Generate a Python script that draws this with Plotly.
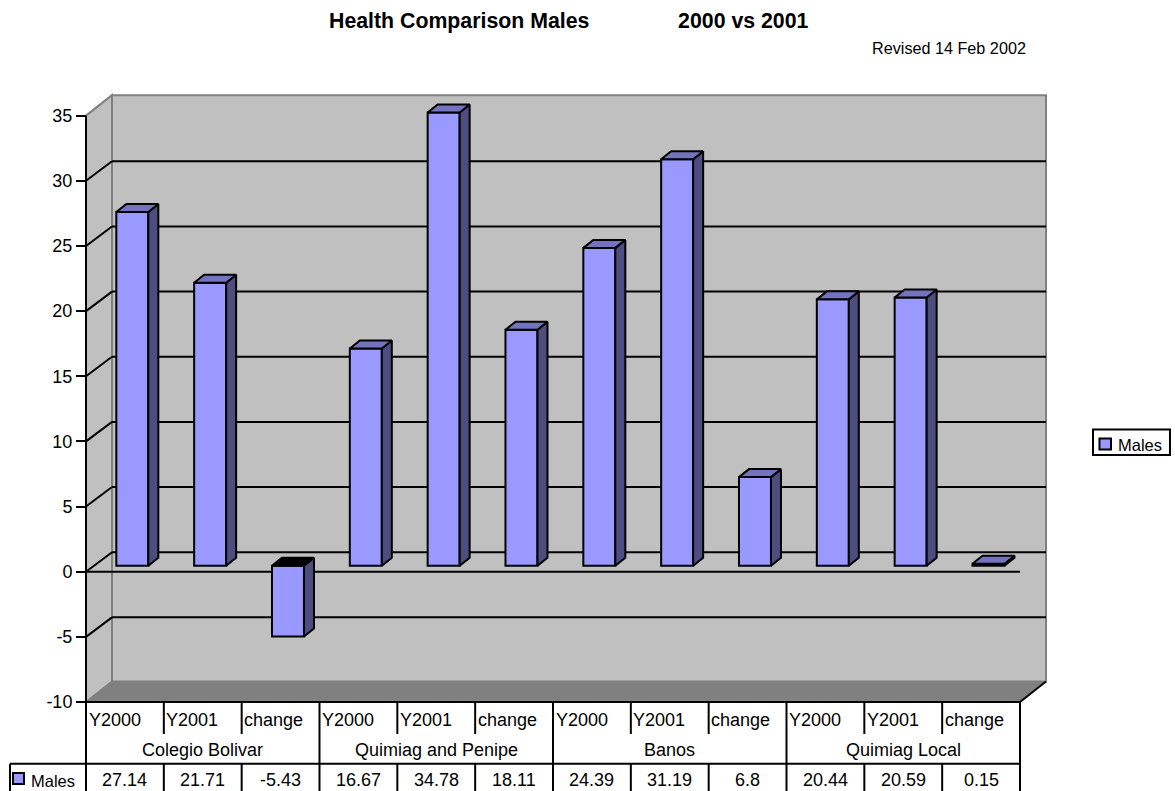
import plotly.graph_objects as go

# Chart data
groups = ["Colegio Bolivar", "Quimiag and Penipe", "Banos", "Quimiag Local"]
periods = ["Y2000", "Y2001", "change"]
males = [27.14, 21.71, -5.43, 16.67, 34.78, 18.11, 24.39, 31.19, 6.8, 20.44, 20.59, 0.15]
y_ticks = [-10, -5, 0, 5, 10, 15, 20, 25, 30, 35]
value_labels = ["27.14", "21.71", "-5.43", "16.67", "34.78", "18.11",
                "24.39", "31.19", "6.8", "20.44", "20.59", "0.15"]

# Canvas and pseudo-3D geometry, in pixels
WIDTH, HEIGHT = 1175, 791
FRONT_LEFT = 86.0
FRONT_RIGHT = 1020.0
ZERO_Y = 571.7
PX_PER_CAT = (FRONT_RIGHT - FRONT_LEFT) / len(males)
PX_PER_UNIT = 13.03
WALL_DX, WALL_DY = 26.0, 20.5
GRID_DY = 19.5
BAR_W, BAR_SHIFT, BAR_LIFT = 32.0, 7.4, 6.0
BAR_DX, BAR_DY = 10.0, 8.0

LINE = 2
FONT = "Liberation Sans, Arial, sans-serif"
BAR_FILL, BAR_SIDE, BAR_TOP = "#9999FF", "#4D4D80", "#7373BF"
WALL, WALL_EDGE = "#C0C0C0", "#808080"
TABLE_SIZE = 18


def xd(px):
    """Horizontal pixel to category-axis position."""
    return (px - FRONT_LEFT) / PX_PER_CAT - 0.5


def yd(px):
    """Vertical pixel to value-axis position."""
    return (ZERO_Y - px) / PX_PER_UNIT


def poly(points, fill, edge=None, width=0, layer="below"):
    path = "M " + " L ".join(f"{xd(a):.3f} {yd(b):.3f}" for a, b in points) + " Z"
    return dict(type="path", path=path, xref="x", yref="y", fillcolor=fill, layer=layer,
                line=dict(color=edge or fill, width=width))


def seg(x0, y0, x1, y1, color="black", width=LINE, layer="below"):
    return dict(type="line", xref="x", yref="y", x0=xd(x0), y0=yd(y0), x1=xd(x1), y1=yd(y1),
                layer=layer, line=dict(color=color, width=width))


def label(px, py, text, anchor="center", size=TABLE_SIZE):
    return dict(x=xd(px), y=yd(py), xref="x", yref="y", text=text, showarrow=False,
                xanchor=anchor, yanchor="middle", borderpad=0,
                font=dict(family=FONT, size=size, color="black"))


FLOOR_Y = ZERO_Y - y_ticks[0] * PX_PER_UNIT
TOP_Y = ZERO_Y - y_ticks[-1] * PX_PER_UNIT

shapes = [
    # back wall, side wall and floor
    poly([(FRONT_LEFT + WALL_DX, TOP_Y - WALL_DY), (FRONT_RIGHT + WALL_DX, TOP_Y - WALL_DY),
          (FRONT_RIGHT + WALL_DX, FLOOR_Y - WALL_DY), (FRONT_LEFT + WALL_DX, FLOOR_Y - WALL_DY)],
         WALL, WALL_EDGE, 2),
    poly([(FRONT_LEFT, TOP_Y), (FRONT_LEFT + WALL_DX, TOP_Y - WALL_DY),
          (FRONT_LEFT + WALL_DX, FLOOR_Y - WALL_DY), (FRONT_LEFT, FLOOR_Y)],
         WALL, WALL_EDGE, 2),
    poly([(FRONT_LEFT, FLOOR_Y), (FRONT_LEFT + WALL_DX, FLOOR_Y - WALL_DY),
          (FRONT_RIGHT + WALL_DX, FLOOR_Y - WALL_DY), (FRONT_RIGHT, FLOOR_Y)],
         WALL_EDGE),
    seg(FRONT_RIGHT, FLOOR_Y, FRONT_RIGHT + WALL_DX, FLOOR_Y - WALL_DY),
]

# Gridlines run along the side wall and across the back wall
for tick in y_ticks:
    front = ZERO_Y - tick * PX_PER_UNIT
    if tick in (y_ticks[0], y_ticks[-1]):
        continue
    shapes.append(seg(FRONT_LEFT, front, FRONT_LEFT + WALL_DX, front - GRID_DY))
    shapes.append(seg(FRONT_LEFT + WALL_DX, front - GRID_DY, FRONT_RIGHT + WALL_DX, front - GRID_DY))
shapes.append(seg(FRONT_LEFT, ZERO_Y, FRONT_RIGHT, ZERO_Y))
shapes.append(seg(FRONT_LEFT, TOP_Y, FRONT_LEFT, FLOOR_Y))

# Data table under the plot
ROW1_END, ROW2_END = 734.0, 763.7
shapes.append(seg(FRONT_LEFT, FLOOR_Y, FRONT_RIGHT, FLOOR_Y))
shapes.append(seg(10, ROW2_END, FRONT_RIGHT, ROW2_END))
shapes.append(seg(10, ROW2_END, 10, HEIGHT))
for i in range(len(males) + 1):
    px = FRONT_LEFT + i * PX_PER_CAT
    if i % len(periods) == 0:
        shapes.append(seg(px, FLOOR_Y, px, HEIGHT))
    else:
        shapes.append(seg(px, FLOOR_Y, px, ROW1_END))
        shapes.append(seg(px, ROW2_END, px, HEIGHT))

annotations = []
for i, text in enumerate(value_labels):
    left = FRONT_LEFT + i * PX_PER_CAT
    annotations.append(label(left + 1.5, 720, periods[i % len(periods)], "left"))
    annotations.append(label(left + PX_PER_CAT / 2, 780, text))
for g, name in enumerate(groups):
    left = FRONT_LEFT + g * len(periods) * PX_PER_CAT
    annotations.append(label(left + 1.5 * PX_PER_CAT, 750, name))

# Legend box, then the key repeated beside the plot and in the table
shapes.append(poly([(1093, 429.5), (1170, 429.5), (1170, 455), (1093, 455)], "white", "black", LINE))
for x0, x1, y0, y1, tx, ty in [(13, 24, 773, 784, 30, 781), (1099.5, 1111, 438.5, 449.5, 1117, 445)]:
    shapes.append(poly([(x0, y0), (x1, y0), (x1, y1), (x0, y1)], BAR_FILL, "black", LINE))
    annotations.append(label(tx, ty, "Males", "left", 16.5))
annotations.append(label(1027, 48, "Revised 14 Feb 2002", "right", 16.2))

# Pseudo-3D faces computed from the bar values
cat_x = [i + BAR_SHIFT / PX_PER_CAT for i in range(len(males))]
half = BAR_W / 2 / PX_PER_CAT
base = BAR_LIFT / PX_PER_UNIT
ddx, ddy = BAR_DX / PX_PER_CAT, BAR_DY / PX_PER_UNIT
side_x, side_y, top_x, top_y, under_x, under_y = [], [], [], [], [], []
for x, v in zip(cat_x, males):
    high, low = max(base, base + v), min(base, base + v)
    r = x + half
    l = x - half
    side_x += [r, r + ddx, r + ddx, r, r, None]
    side_y += [low, low + ddy, high + ddy, high, low, None]
    cap_x, cap_y = (under_x, under_y) if v < 0 else (top_x, top_y)
    cap_x += [l, r, r + ddx, l + ddx, l, None]
    cap_y += [high, high, high + ddy, high + ddy, high, None]

edge = dict(color="black", width=LINE)
traces = [
    go.Bar(x=cat_x, y=males, base=base, width=BAR_W / PX_PER_CAT, name="Males",
           marker=dict(color=BAR_FILL, line=edge), showlegend=False),
    go.Scatter(x=side_x, y=side_y, mode="lines", fill="toself", fillcolor=BAR_SIDE, line=edge,
               hoverinfo="skip", showlegend=False, cliponaxis=False),
    go.Scatter(x=top_x, y=top_y, mode="lines", fill="toself", fillcolor=BAR_TOP, line=edge,
               hoverinfo="skip", showlegend=False, cliponaxis=False),
    go.Scatter(x=under_x, y=under_y, mode="lines", fill="toself", fillcolor="black", line=edge,
               hoverinfo="skip", showlegend=False, cliponaxis=False),
]

fig = go.Figure(traces)
title_gap = "\u00a0" * 15
fig.update_layout(
    width=WIDTH, height=HEIGHT, autosize=False,
    margin=dict(l=0, r=0, t=0, b=0),
    paper_bgcolor="white", plot_bgcolor="white",
    showlegend=False, barmode="overlay",
    font=dict(family=FONT, size=TABLE_SIZE, color="black"),
    title=dict(text=f"<b>Health Comparison Males{title_gap}2000 vs 2001</b>",
               x=329 / WIDTH, xanchor="left", xref="paper",
               y=1 - 21 / HEIGHT, yanchor="middle", yref="paper",
               font=dict(family=FONT, size=21.3, color="black")),
    xaxis=dict(range=[xd(0), xd(WIDTH)], domain=[0, 1], visible=False, fixedrange=True),
    yaxis=dict(range=[yd(HEIGHT), yd(0)], domain=[0, 1], anchor="free",
               position=FRONT_LEFT / WIDTH, side="left",
               tickmode="array", tickvals=y_ticks, ticktext=[str(t) for t in y_ticks],
               ticks="outside", ticklen=10, tickwidth=LINE, tickcolor="black",
               tickfont=dict(family=FONT, size=TABLE_SIZE, color="black"),
               showgrid=False, zeroline=False, showline=False, fixedrange=True),
    shapes=shapes,
    annotations=annotations,
)
fig.write_html("out.html")
